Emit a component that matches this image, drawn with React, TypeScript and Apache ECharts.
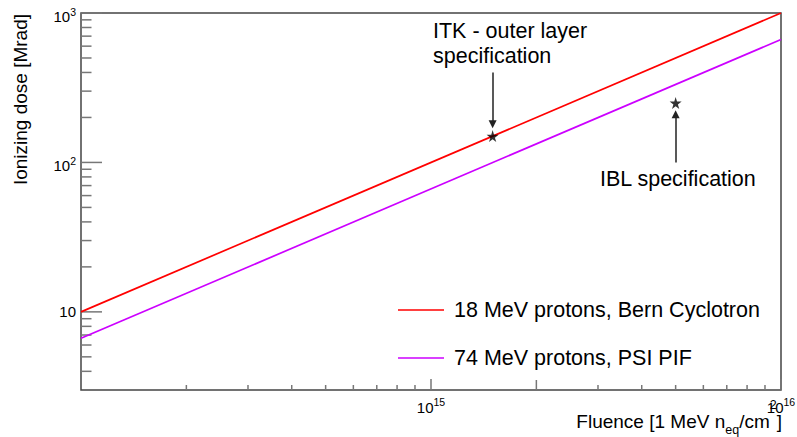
import React, { useEffect, useRef } from 'react';
import * as echarts from 'echarts';

// ---- data ----
const fluenceRange = [1e14, 1e16];
const doseRange = [3, 1000];

const bernName = '18 MeV protons, Bern Cyclotron';
const bernFluence = [1e14, 1e16];
const bernDose = [10, 1000];

const psiName = '74 MeV protons, PSI PIF';
const psiFluence = [1e14, 1e16];
const psiDose = [6.65, 665];

const specLabels = ['ITK - outer layer specification', 'IBL specification'];
const specFluence = [1.5e15, 5e15];
const specDose = [150, 250];
const arrowStartDose = [400, 100];
const arrowEndDose = [180, 210];

const xLabelExponents = [15, 16];
const yLabelExponents = [1, 2, 3];

const xMajorTicks = [1e15, 1e16];
const xMediumTicks = [2e15];
const xMinorTicks = [2e14, 3e14, 4e14, 5e14, 6e14, 7e14, 8e14, 9e14, 3e15, 4e15, 5e15, 6e15, 7e15, 8e15, 9e15];
const yMajorTicks = [10, 100, 1000];
const yMinorTicks = [4, 5, 6, 7, 8, 9, 20, 30, 40, 50, 60, 70, 80, 90, 200, 300, 400, 500, 600, 700, 800, 900];

const FONT = '"Liberation Sans", Arial, Helvetica, sans-serif';
const STAR = 'path://M50,0 L61,35 L98,35 L68,57 L79,91 L50,70 L21,91 L32,57 L2,35 L39,35 Z';

const labelRich = {
  b: { fontSize: 15, fontFamily: FONT, color: '#000', verticalAlign: 'bottom' },
  s: { fontSize: 10.5, fontFamily: FONT, color: '#000', verticalAlign: 'top', padding: [4, 0, 0, 0] },
  c: { fontSize: 15, fontFamily: FONT, color: '#000', verticalAlign: 'middle' },
};

const makeFormatter = (exps: number[]) => (v: number) => {
  const e = Math.round(Math.log10(v));
  if (Math.abs(v / Math.pow(10, e) - 1) > 1e-6) return '';
  if (exps.indexOf(e) < 0) return '';
  if (e === 1) return '{c|10}';
  return `{b|10}{s|${e}}`;
};

export default function App() {
  const ref = useRef<HTMLDivElement>(null);
  useEffect(() => {
    if (!ref.current) return;
    const chart = echarts.init(ref.current, undefined, { renderer: 'svg' });

    const xTickData = [
      ...xMinorTicks.map((v) => [v, doseRange[0], 0]),
      ...xMediumTicks.map((v) => [v, doseRange[0], 1]),
      ...xMajorTicks.map((v) => [v, doseRange[0], 2]),
    ];
    const yTickData = [
      ...yMinorTicks.map((v) => [fluenceRange[0], v, 0]),
      ...yMajorTicks.map((v) => [fluenceRange[0], v, 2]),
    ];

    const option: any = {
      animation: false,
      backgroundColor: '#fff',
      textStyle: { fontFamily: FONT },
      grid: {
        left: 81,
        top: 13,
        right: 16,
        bottom: 47,
        show: true,
        borderColor: '#444',
        borderWidth: 1.5,
        backgroundColor: 'transparent',
        containLabel: false,
        outerBoundsMode: 'none',
      },
      xAxis: {
        type: 'log',
        logBase: 10,
        min: fluenceRange[0],
        max: fluenceRange[1],
        axisLine: { show: false },
        axisTick: { show: false },
        splitLine: { show: false },
        minorTick: { show: false },
        axisLabel: {
          show: true,
          margin: 2.5,
          lineHeight: 22,
          showMinLabel: true,
          showMaxLabel: true,
          formatter: makeFormatter(xLabelExponents),
          rich: labelRich,
        },
      },
      yAxis: {
        type: 'log',
        logBase: 10,
        min: doseRange[0],
        max: doseRange[1],
        axisLine: { show: false },
        axisTick: { show: false },
        splitLine: { show: false },
        minorTick: { show: false },
        axisLabel: {
          show: true,
          margin: 5,
          lineHeight: 22,
          showMinLabel: true,
          showMaxLabel: true,
          formatter: makeFormatter(yLabelExponents),
          rich: labelRich,
        },
      },
      legend: {
        data: [bernName, psiName],
        orient: 'vertical',
        left: 398,
        top: 299,
        padding: 0,
        itemWidth: 46,
        itemHeight: 1.6,
        itemGap: 26,
        icon: 'rect',
        itemStyle: { borderWidth: 0 },
        textStyle: {
          fontSize: 21.5,
          lineHeight: 22,
          fontFamily: FONT,
          color: '#000',
          padding: [0, 0, 0, 5],
        },
        selectedMode: false,
      },
      series: [
        {
          name: bernName,
          type: 'line',
          data: bernFluence.map((f, i) => [f, bernDose[i]]),
          showSymbol: false,
          symbol: 'none',
          color: '#ff0000',
          lineStyle: { color: '#ff0000', width: 1.7 },
          silent: true,
          z: 3,
        },
        {
          name: psiName,
          type: 'line',
          data: psiFluence.map((f, i) => [f, psiDose[i]]),
          showSymbol: false,
          symbol: 'none',
          color: '#cc00ff',
          lineStyle: { color: '#cc00ff', width: 1.7 },
          silent: true,
          z: 3,
        },
        {
          name: 'specs',
          type: 'scatter',
          data: specFluence.map((f, i) => ({ name: specLabels[i], value: [f, specDose[i]] })),
          symbol: STAR,
          symbolSize: 12,
          itemStyle: { color: '#000' },
          silent: true,
          z: 5,
        },
        {
          name: 'arrows',
          type: 'lines',
          coordinateSystem: 'cartesian2d',
          data: specFluence.map((f, i) => ({ coords: [[f, arrowStartDose[i]], [f, arrowEndDose[i]]] })),
          symbol: ['none', 'triangle'],
          symbolSize: 8,
          lineStyle: { color: '#222', width: 1.5, opacity: 1, curveness: 0 },
          silent: true,
          z: 4,
        },
        {
          name: 'xticks',
          type: 'custom',
          data: xTickData,
          silent: true,
          clip: false,
          renderItem: (params: any, api: any) => {
            const p = api.coord([api.value(0), api.value(1)]);
            const kind = api.value(2);
            const len = kind === 2 ? 11 : kind === 1 ? 10 : 5;
            return {
              type: 'line',
              shape: { x1: p[0], y1: p[1], x2: p[0], y2: p[1] - len },
              style: { stroke: '#777', lineWidth: 1.5 },
            };
          },
          z: 2,
        },
        {
          name: 'yticks',
          type: 'custom',
          data: yTickData,
          silent: true,
          clip: false,
          renderItem: (params: any, api: any) => {
            const p = api.coord([api.value(0), api.value(1)]);
            const kind = api.value(2);
            const len = kind === 2 ? 21 : 10.5;
            return {
              type: 'line',
              shape: { x1: p[0], y1: p[1], x2: p[0] + len, y2: p[1] },
              style: { stroke: '#777', lineWidth: 1.5 },
            };
          },
          z: 2,
        },
      ],
      graphic: {
        elements: [
          {
            type: 'text',
            x: 433,
            y: 30.5,
            silent: true,
            style: { text: 'ITK - outer layer', fontSize: 21.5, fontFamily: FONT, fill: '#000', align: 'left', verticalAlign: 'middle' },
          },
          {
            type: 'text',
            x: 433,
            y: 55.5,
            silent: true,
            style: { text: 'specification', fontSize: 21.5, fontFamily: FONT, fill: '#000', align: 'left', verticalAlign: 'middle' },
          },
          {
            type: 'text',
            x: 600,
            y: 179,
            silent: true,
            style: { text: 'IBL specification', fontSize: 21.5, fontFamily: FONT, fill: '#000', align: 'left', verticalAlign: 'middle' },
          },
          {
            type: 'text',
            x: 20,
            y: 14,
            rotation: Math.PI / 2,
            silent: true,
            style: { text: 'Ionizing dose [Mrad]', fontSize: 19, fontFamily: FONT, fill: '#000', align: 'right', verticalAlign: 'middle' },
          },
          {
            type: 'text',
            x: 782,
            y: 421,
            silent: true,
            style: {
              text: '{a|Fluence [1 MeV n}{sub|eq}{a|/cm}{sup|2}{a|]}',
              align: 'right',
              verticalAlign: 'middle',
              lineHeight: 46,
              rich: {
                a: { fontSize: 19, fontFamily: FONT, fill: '#000', verticalAlign: 'middle' },
                sub: { fontSize: 12.5, fontFamily: FONT, fill: '#000', verticalAlign: 'bottom', padding: [0, 0, 7.5, 0] },
                sup: { fontSize: 12.5, fontFamily: FONT, fill: '#000', verticalAlign: 'top' },
              },
            },
          },
        ],
      },
    };

    chart.setOption(option);
    return () => chart.dispose();
  }, []);

  return (
    <div
      ref={ref}
      style={{ position: 'fixed', left: 0, top: 0, width: 797, height: 437, background: '#fff' }}
    />
  );
}
